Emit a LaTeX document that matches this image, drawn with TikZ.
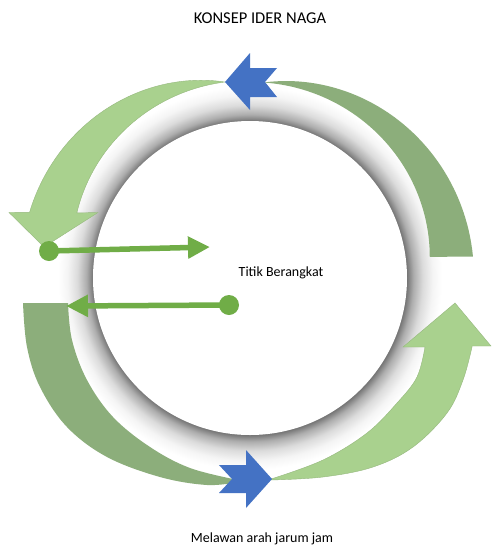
\documentclass[tikz,border=0pt]{standalone}
\usepackage{fontspec}
\setmainfont{Carlito}
\usetikzlibrary{arrows.meta}
\definecolor{lightg}{HTML}{A9D18E}
\definecolor{darkg}{HTML}{8CAE7B}
\definecolor{lineg}{HTML}{70AD47}
\definecolor{blueA}{HTML}{4472C4}
\pgfdeclareradialshading{glowshade}{\pgfpoint{0bp}{0bp}}{color(0bp)=(black!55); color(20.4bp)=(black!55); color(21.3bp)=(black!32); color(22.5bp)=(black!14); color(23.8bp)=(black!4); color(25bp)=(white); color(50bp)=(white)}
\begin{document}
\begin{tikzpicture}[x=1pt,y=-1pt,
  lightband/.style={fill=lightg, draw=lightg!88!black, line width=0.4pt},
  darkband/.style={fill=darkg},
  bluearrow/.style={fill=blueA},
  conn/.style={draw=lineg, line width=5.5pt, -{Triangle[length=22pt,width=21pt]}},
  dotmark/.style={fill=lineg},
  lbl/.style={font=\fontsize{14}{16}\selectfont, inner sep=0pt},
  ttl/.style={font=\fontsize{16.5}{19}\selectfont, inner sep=0pt}]
\useasboundingbox (0,0) rectangle (491,547);
\fill[white] (0,0) rectangle (491,547);
% shadow and white disc
\coordinate (C) at (250,278);
\shade[shading=glowshade] (C) circle[radius=192];
\fill[white] (C) circle[radius=157];
% band A (dark, top right)
\fill[darkband] plot[domain=5.5:86, samples=50, variable=\a]
   ({250+(224-28*((\a-5.5)/80.5)^2)*cos(\a)}, {278-(224-28*((\a-5.5)/80.5)^2)*sin(\a)})
   -- plot[domain=86:6.7, samples=50, variable=\a]
   ({250+(181+15*(1-(1-(\a-6.7)/79.3)^2))*cos(\a)}, {278-(181+15*(1-(1-(\a-6.7)/79.3)^2))*sin(\a)})
   -- cycle;
% band B (light, top left, arrow)
\filldraw[lightband] plot[domain=97.3:163.4, samples=50, variable=\a]
   ({250+(230-32.4*((163.4-\a)/66.1)^2)*cos(\a)}, {278-(230-32.4*((163.4-\a)/66.1)^2)*sin(\a)})
   -- (9,212.5) -- (44,247) -- (98,212.5)
   -- plot[domain=159.4:97.3, samples=50, variable=\a]
   ({250+(185+12.6*(1-(1-(159.4-\a)/62.1)^2))*cos(\a)}, {278-(185+12.6*(1-(1-(159.4-\a)/62.1)^2))*sin(\a)})
   -- cycle;
% band C (dark, bottom left)
\fill[darkband] plot[smooth, tension=0.6] coordinates {(23,303) (27,347) (40,387) (67,427) (107,457) (160,477) (207,485) (238,482)}
   -- plot[smooth, tension=0.6] coordinates {(238,480) (190,468) (150,447) (113,417) (87,380) (72,340) (68,303)}
   -- cycle;
% band D (light, bottom right, arrow)
\filldraw[lightband] plot[smooth, tension=0.6] coordinates {(271,479) (323,460) (367,433) (397,403) (417,377) (425,347)}
   -- (403,347) -- (455,303) -- (491,346) -- (472,346)
   -- plot[smooth, tension=0.6] coordinates {(472,347) (463,380) (447,413) (413,447) (373,467) (323,477) (271,480)}
   -- cycle;
% blue notched arrows
\fill[bluearrow] (225,82) -- (250,53) -- (250,68) -- (277,68) -- (265,82) -- (277,97) -- (250,97) -- (250,110) -- cycle;
\fill[bluearrow] (272,479) -- (246,450) -- (246,465) -- (219,465) -- (232,479) -- (219,493) -- (246,493) -- (246,508) -- cycle;
% connectors
\coordinate (d1) at (49,251);
\coordinate (t1) at (210,247);
\coordinate (d2) at (229,305);
\coordinate (t2) at (66,306);
\draw[conn] (d1) -- (t1);
\draw[conn] (d2) -- (t2);
\fill[dotmark] (d1) circle[radius=10];
\fill[dotmark] (d2) circle[radius=10];
% texts
\node[ttl] (title) at (260,18) {KONSEP IDER NAGA};
\node[lbl] (start) at (281,273) {Titik Berangkat};
\node[lbl] (foot) at (262,539) {Melawan arah jarum jam};
\end{tikzpicture}
\end{document}
